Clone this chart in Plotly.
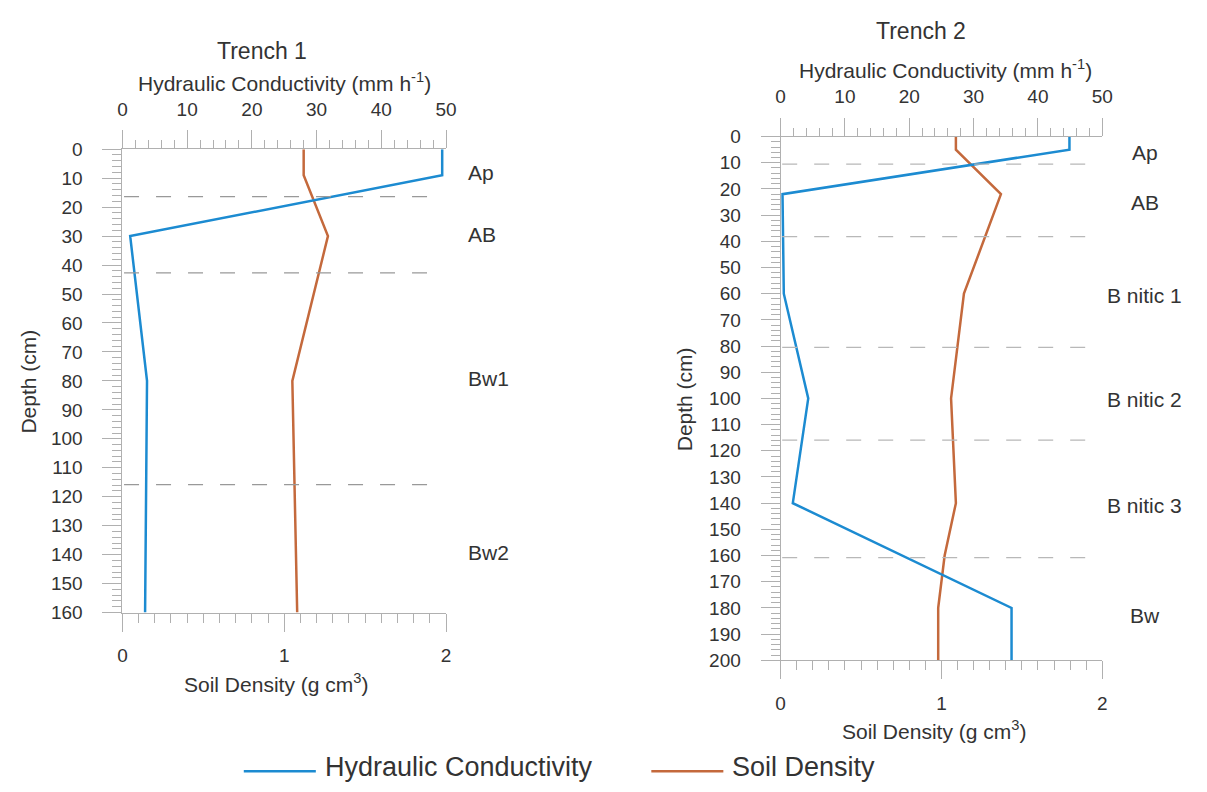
import plotly.graph_objects as go

# ---------------- data ----------------
t1_hc_depth = [0, 9, 30, 80, 160]
t1_hc = [49.4, 49.4, 1.2, 3.8, 3.5]
t1_sd_depth = [0, 9, 30, 80, 160]
t1_sd = [1.12, 1.12, 1.27, 1.05, 1.08]
t1_boundaries = [16.4, 42.7, 115.8]
t1_horizons = ["Ap", "AB", "Bw1", "Bw2"]
t1_horizon_depth = [8.0, 29.6, 79.3, 139.4]

t2_hc_depth = [0, 5, 22, 60, 100, 140, 180, 200]
t2_hc = [44.9, 44.9, 0.3, 0.5, 4.3, 1.9, 35.9, 35.9]
t2_sd_depth = [0, 5, 22, 60, 80, 100, 140, 160, 180, 200]
t2_sd = [1.09, 1.09, 1.37, 1.14, 1.10, 1.06, 1.09, 1.02, 0.98, 0.98]
t2_boundaries = [10.5, 38.2, 80.5, 115.9, 160.8]
t2_horizons = ["Ap", "AB", "B nitic 1", "B nitic 2", "B nitic 3", "Bw"]
t2_horizon_depth = [6.2, 25.2, 60.7, 100.4, 140.9, 182.8]

series_names = ["Hydraulic Conductivity", "Soil Density"]

# ---------------- styling ----------------
W, H = 1207, 792
BLUE = "#1c8bd1"
ORANGE = "#c4693c"
TXT = "#333333"
AX = "#b0b0b0"
FONT = "Liberation Sans, Arial, sans-serif"


def px(x):
    return x / W


def py(y):
    return 1 - y / H


fig = go.Figure()

fig.add_trace(go.Scatter(x=t1_hc, y=t1_hc_depth, xaxis="x2", yaxis="y", mode="lines",
                         line=dict(color=BLUE, width=2.5), name=series_names[0], showlegend=False))
fig.add_trace(go.Scatter(x=t1_sd, y=t1_sd_depth, xaxis="x", yaxis="y", mode="lines",
                         line=dict(color=ORANGE, width=2.5), name=series_names[1], showlegend=False))
fig.add_trace(go.Scatter(x=t2_hc, y=t2_hc_depth, xaxis="x4", yaxis="y2", mode="lines",
                         line=dict(color=BLUE, width=2.5), name=series_names[0], showlegend=False))
fig.add_trace(go.Scatter(x=t2_sd, y=t2_sd_depth, xaxis="x3", yaxis="y2", mode="lines",
                         line=dict(color=ORANGE, width=2.5), name=series_names[1], showlegend=False))

tickfont = dict(family=FONT, size=19, color=TXT)


def xbottom(domain, anchor):
    return dict(domain=domain, range=[0, 2], anchor=anchor, side="bottom",
                tickvals=[0, 1, 2], ticks="outside", ticklen=18, tickcolor=AX, tickwidth=1,
                minor=dict(dtick=0.1, tick0=0, ticks="outside", ticklen=9, tickcolor=AX),
                showline=True, linecolor=AX, linewidth=1, showgrid=False, zeroline=False,
                tickfont=tickfont, ticklabelstandoff=8, fixedrange=True)


def xtop(domain, anchor, overlay):
    return dict(domain=domain, range=[0, 50], anchor=anchor, side="top", overlaying=overlay,
                dtick=10, tick0=0, ticks="outside", ticklen=18, tickcolor=AX, tickwidth=1,
                minor=dict(dtick=2, tick0=0, ticks="outside", ticklen=8, tickcolor=AX),
                showline=True, linecolor=AX, linewidth=1, showgrid=False, zeroline=False,
                tickfont=tickfont, ticklabelstandoff=7, fixedrange=True)


def yleft(domain, anchor, maxd):
    return dict(domain=domain, range=[maxd, 0], anchor=anchor, dtick=10, tick0=0,
                ticks="outside", ticklen=19, tickcolor=AX, tickwidth=1,
                minor=dict(dtick=2, tick0=0, ticks="outside", ticklen=9, tickcolor=AX),
                showline=True, linecolor=AX, linewidth=1, showgrid=False, zeroline=False,
                tickfont=tickfont, ticklabelstandoff=16, fixedrange=True)


t1x = [px(119), px(447)]
t1y = [py(619), py(143)]
t2x = [px(786), px(1112)]
t2y = [py(668), py(130)]

fig.update_layout(
    width=W, height=H, margin=dict(l=0, r=0, t=0, b=0),
    paper_bgcolor="white", plot_bgcolor="white",
    font=dict(family=FONT, color=TXT),
    xaxis=xbottom(t1x, "y"),
    xaxis2=xtop(t1x, "y", "x"),
    yaxis=yleft(t1y, "x", 160),
    xaxis3=xbottom(t2x, "y2"),
    xaxis4=xtop(t2x, "y2", "x3"),
    yaxis2=yleft(t2y, "x3", 200),
    showlegend=False,
)

shapes = []
for d in t1_boundaries:
    shapes.append(dict(type="line", xref="x", yref="y", x0=0.01, x1=1.96, y0=d, y1=d,
                       line=dict(color="#999999", width=1.3, dash="15px,17px")))
for d in t2_boundaries:
    shapes.append(dict(type="line", xref="x3", yref="y2", x0=0.01, x1=1.96, y0=d, y1=d,
                       line=dict(color="#b8b8b8", width=1.3, dash="15px,17px")))

# legend (line samples)
shapes.append(dict(type="line", xref="paper", yref="paper", x0=px(242), x1=px(315),
                   y0=py(782), y1=py(782), line=dict(color=BLUE, width=2.5)))
shapes.append(dict(type="line", xref="paper", yref="paper", x0=px(655), x1=px(728),
                   y0=py(782), y1=py(782), line=dict(color=ORANGE, width=2.5)))
fig.update_layout(shapes=shapes)

ann = []
for name, d in zip(t1_horizons, t1_horizon_depth):
    ann.append(dict(text=name, xref="paper", yref="y", x=px(467), y=d, xanchor="left",
                    yanchor="middle", showarrow=False, font=dict(family=FONT, size=21, color=TXT)))
for name, d in zip(t2_horizons, t2_horizon_depth):
    ann.append(dict(text=name, xref="paper", yref="y2", x=px(1155), y=d, xanchor="center",
                    yanchor="middle", showarrow=False, font=dict(family=FONT, size=21, color=TXT)))


def label(text, x, y, size, angle=0, anchor="center"):
    return dict(text=text, xref="paper", yref="paper", x=px(x), y=py(y), xanchor=anchor,
                yanchor="middle", showarrow=False, textangle=angle,
                font=dict(family=FONT, size=size, color=TXT))


ann += [
    label("Trench 1", 260, 42, 23),
    label("Hydraulic Conductivity (mm h<sup>-1</sup>)", 283, 74, 21),
    label("Soil Density (g cm<sup>3</sup>)", 275, 691, 21),
    label("Depth (cm)", 24, 382, 21, -90),
    label("Trench 2", 928, 22, 23),
    label("Hydraulic Conductivity (mm h<sup>-1</sup>)", 953, 61, 21),
    label("Soil Density (g cm<sup>3</sup>)", 941, 740, 21),
    label("Depth (cm)", 689, 400, 21, -90),
    label(series_names[0], 322, 778, 27, anchor="left"),
    label(series_names[1], 735, 778, 27, anchor="left"),
]
fig.update_layout(annotations=ann)

fig.write_html("out.html", post_script="document.body.style.margin='0';",
               config={"displayModeBar": False})
